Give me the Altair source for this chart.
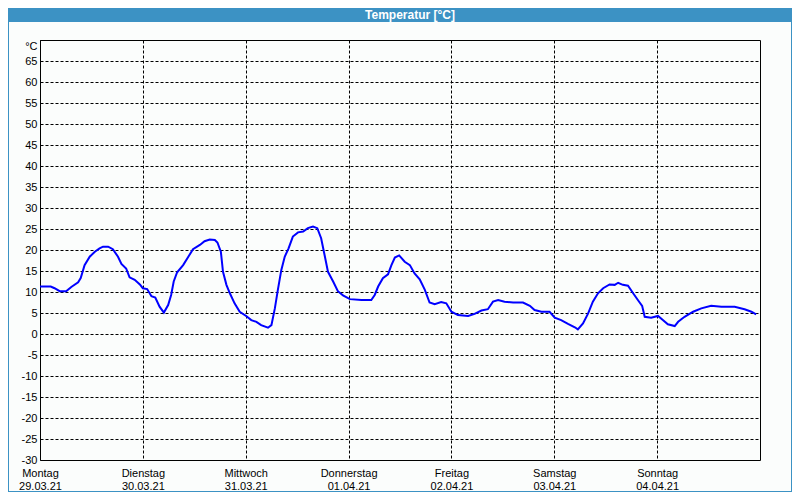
import altair as alt
import pandas as pd

# hours since Monday 29.03.21 00:00
hours = [0.0, 2.5, 3.4, 4.6, 6.1, 7.3, 8.9, 9.5, 10.4, 11.6, 12.8, 13.9, 14.7, 15.9,
         17.0, 18.2, 19.0, 20.1, 20.9, 22.1, 23.3, 24.0, 25.0, 26.0, 26.9, 27.9, 28.9,
         29.9, 30.6, 31.2, 32.0, 33.4, 34.5, 35.7, 37.3, 38.4, 39.6, 40.8, 41.4, 42.2,
         42.7, 43.5, 44.3, 45.4, 46.6, 48.1, 49.3, 50.5, 51.6, 53.2, 54.0, 54.8, 55.5,
         56.3, 57.1, 58.0, 59.0, 60.2, 61.4, 62.5, 63.7, 64.7, 65.6, 66.4, 67.2, 68.4,
         69.5, 70.7, 72.3, 75.0, 77.3, 78.1, 78.9, 80.0, 81.2, 82.0, 82.8, 83.8, 85.1,
         86.3, 87.4, 88.6, 89.8, 90.9, 92.1, 93.6, 94.8, 96.0, 97.5, 99.9, 101.4, 103.0,
         104.5, 105.7, 106.9, 108.4, 110.4, 112.7, 114.3, 115.4, 117.0, 118.9, 120.1,
         121.6, 123.2, 124.8, 125.5, 126.7, 127.9, 129.0, 130.2, 131.4, 132.9, 134.1,
         134.9, 136.0, 137.2, 138.4, 139.5, 140.5, 141.1, 142.6, 144.2, 145.4, 146.5,
         148.1, 148.9, 150.4, 152.4, 154.3, 156.6, 159.0, 162.1, 164.4, 166.0, 167.1]
temps = [11.3, 11.3, 10.9, 10.2, 10.2, 11.2, 12.3, 13.3, 16.4, 18.4, 19.6, 20.4, 20.8, 20.8,
         20.2, 18.4, 16.7, 15.6, 13.5, 12.9, 11.8, 10.9, 10.7, 9.0, 8.7, 6.5, 5.1,
         6.9, 9.3, 12.5, 14.7, 16.4, 18.2, 20.2, 21.2, 22.1, 22.5, 22.4, 21.8, 19.6,
         14.8, 11.7, 9.7, 7.3, 5.3, 4.3, 3.3, 2.9, 2.1, 1.5, 2.1, 6.1, 10.5,
         15.2, 18.4, 20.4, 23.2, 24.2, 24.4, 25.2, 25.6, 25.2, 22.8, 18.8, 14.8, 12.5,
         10.2, 9.2, 8.3, 8.1, 8.1, 9.3, 11.3, 13.3, 14.2, 16.4, 18.2, 18.7, 17.2,
         16.4, 14.4, 13.0, 10.5, 7.5, 7.1, 7.6, 7.3, 5.3, 4.5, 4.3, 4.8, 5.6,
         5.9, 7.7, 8.1, 7.7, 7.5, 7.5, 6.7, 5.7, 5.3, 5.3, 3.9,
         3.3, 2.4, 1.6, 1.1, 2.5, 4.9, 7.7, 9.7, 10.9, 11.8, 11.7,
         12.2, 11.7, 11.5, 9.7, 8.1, 6.7, 4.1, 3.9, 4.3, 3.3, 2.3,
         1.9, 2.9, 4.1, 5.3, 6.1, 6.7, 6.5, 6.5, 5.9, 5.3, 4.7]

day_names = ["Montag", "Dienstag", "Mittwoch", "Donnerstag", "Freitag", "Samstag", "Sonntag"]
day_dates = ["29.03.21", "30.03.21", "31.03.21", "01.04.21", "02.04.21", "03.04.21", "04.04.21"]
day_ticks = [0, 24, 48, 72, 96, 120, 144]
y_ticks = list(range(-30, 75, 5))
title_text = "Temperatur [°C]"

BAR = "#3c92c4"
FONT = "Liberation Sans"

df = pd.DataFrame({"h": hours, "t": temps})

names_js = "[" + ",".join(f"'{n}'" for n in day_names) + "]"
dates_js = "[" + ",".join(f"'{d}'" for d in day_dates) + "]"
x_expr = f"[{names_js}[round(datum.value/24)], {dates_js}[round(datum.value/24)]]"

line = alt.Chart(df).mark_line(color="#0000ff", strokeWidth=2, clip=True).encode(
    x=alt.X("h:Q", scale=alt.Scale(domain=[0, 168], nice=False, zero=False),
            axis=alt.Axis(values=day_ticks, labelExpr=x_expr, grid=True, ticks=False,
                          domain=False, labelPadding=7, labelLineHeight=13,
                          labelFlush=False, labelOverlap=False, labelAlign="center",
                          labelBaseline="top", title=None)),
    y=alt.Y("t:Q", scale=alt.Scale(domain=[-30, 70], nice=False, zero=False),
            axis=alt.Axis(values=y_ticks,
                          labelExpr="datum.value == 70 ? '°C' : '' + datum.value",
                          labelBaseline={"condition": {"test": "datum.value == 70", "value": "top"},
                                         "value": "middle"},
                          ticks=False, domain=False, labelPadding=3, labelFlush=False,
                          labelOverlap=False, title=None)),
)

one = pd.DataFrame({"label": [title_text]})

bar = alt.Chart(one).mark_rect(color=BAR).encode(
    x=alt.value(-32), x2=alt.value(752), y=alt.value(-32), y2=alt.value(-18)
)
title = alt.Chart(one).mark_text(color="white", font=FONT, fontSize=12, fontWeight="bold",
                                 align="center", baseline="middle").encode(
    text="label:N", x=alt.value(370), y=alt.value(-25)
)
left_border = alt.Chart(one).mark_rule(color=BAR, strokeWidth=1).encode(
    x=alt.value(-31.5), y=alt.value(-32), y2=alt.value(452)
)
right_border = alt.Chart(one).mark_rule(color=BAR, strokeWidth=1).encode(
    x=alt.value(751.5), y=alt.value(-32), y2=alt.value(452)
)
bottom_border = alt.Chart(one).mark_rule(color=BAR, strokeWidth=1).encode(
    x=alt.value(-32), x2=alt.value(752), y=alt.value(451.5)
)

chart = alt.layer(line, bar, title, left_border, right_border, bottom_border).properties(
    width=720, height=420,
    padding={"left": 32, "top": 32, "right": 32, "bottom": 32},
    autosize="none",
    background="#fbfdfc",
).configure_view(
    stroke="black", strokeWidth=1
).configure_axis(
    labelFont=FONT, labelFontSize=11, labelColor="black",
    gridColor="black", gridDash=[3, 2], gridWidth=1, gridOpacity=1,
)

chart.save("out.html", embed_options={"renderer": "svg", "actions": False})
